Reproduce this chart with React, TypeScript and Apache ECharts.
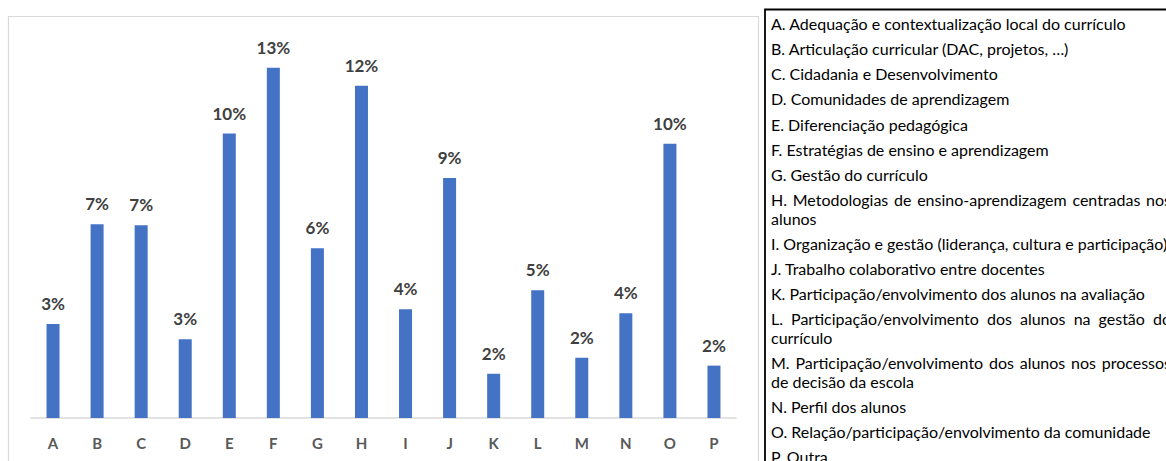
import React, { useEffect, useRef } from "react";
import * as echarts from "echarts";

const categories = ["A", "B", "C", "D", "E", "F", "G", "H", "I", "J", "K", "L", "M", "N", "O", "P"];
const shares = [3.46, 7.14, 7.1, 2.9, 10.48, 12.9, 6.25, 12.24, 4.01, 8.84, 1.63, 4.71, 2.22, 3.86, 10.1, 1.93];
const yMax = 14;

const legendItems: string[][] = [
  ["A. Adequação e contextualização local do currículo"],
  ["B. Articulação curricular (DAC, projetos, …)"],
  ["C. Cidadania e Desenvolvimento"],
  ["D. Comunidades de aprendizagem"],
  ["E. Diferenciação pedagógica"],
  ["F. Estratégias de ensino e aprendizagem"],
  ["G. Gestão do currículo"],
  ["H. Metodologias de ensino-aprendizagem centradas nos", "alunos"],
  ["I. Organização e gestão (liderança, cultura e participação)"],
  ["J. Trabalho colaborativo entre docentes"],
  ["K. Participação/envolvimento dos alunos na avaliação"],
  ["L. Participação/envolvimento dos alunos na gestão do", "currículo"],
  ["M. Participação/envolvimento dos alunos nos processos", "de decisão da escola"],
  ["N. Perfil dos alunos"],
  ["O. Relação/participação/envolvimento da comunidade"],
  ["P. Outra"],
];

const FONT = "Lato, 'Noto Sans', sans-serif";

export default function App() {
  const ref = useRef<HTMLDivElement>(null);

  useEffect(() => {
    if (!ref.current) return;
    const canvas = document.createElement("canvas");
    const ctx = canvas.getContext("2d")!;
    const measure = (s: string, fs: number) => {
      ctx.font = `${fs}px ${FONT}`;
      return ctx.measureText(s).width;
    };
    const baseFs = 14.67;
    const fs = (baseFs * 355) / measure(legendItems[0][0], baseFs);
    const textX = 771;
    const justifyRight = 1171;

    const texts: any[] = [];
    let wraps = 0;
    legendItems.forEach((lines, pi) => {
      lines.forEach((line, li) => {
        const y = 23.5 + pi * 25.15 + (wraps + li) * 18.6;
        const justify = lines.length > 1 && li < lines.length - 1;
        if (justify) {
          const words = line.split(" ");
          const widths = words.map((w) => measure(w, fs));
          const total = widths.reduce((a, b) => a + b, 0);
          const gap = (justifyRight - textX - total) / (words.length - 1);
          let x = textX;
          words.forEach((w, wi) => {
            texts.push({
              type: "text",
              x,
              y,
              style: { text: w, font: `${fs}px ${FONT}`, fill: "#000", verticalAlign: "middle" },
            });
            x += widths[wi] + gap;
          });
        } else {
          texts.push({
            type: "text",
            x: textX,
            y,
            style: { text: line, font: `${fs}px ${FONT}`, fill: "#000", verticalAlign: "middle" },
          });
        }
      });
      wraps += lines.length - 1;
    });

    const chart = echarts.init(ref.current, undefined, { renderer: "svg" });
    chart.setOption({
      animation: false,
      backgroundColor: "#fff",
      grid: { left: 31, right: 430, top: 38, bottom: 43 },
      xAxis: {
        type: "category",
        data: categories,
        axisLine: { lineStyle: { color: "#d9d9d9", width: 1.5 } },
        axisTick: { show: false },
        axisLabel: { color: "#595959", fontWeight: "bold", fontSize: 15, fontFamily: FONT, margin: 17 },
      },
      yAxis: { type: "value", min: 0, max: yMax, show: false },
      series: [
        {
          type: "bar",
          data: shares,
          barWidth: 13,
          itemStyle: { color: "#4472C4" },
          label: {
            show: true,
            position: "top",
            distance: 12,
            formatter: (p: any) => `${Math.round(p.value)}%`,
            color: "#404040",
            fontSize: 17,
            fontWeight: "bold",
            fontFamily: FONT,
          },
        },
      ],
      graphic: {
        elements: [
          {
            type: "rect",
            shape: { x: 8.5, y: 16.5, width: 750, height: 480 },
            style: { fill: "none", stroke: "#d9d9d9", lineWidth: 1.2 },
            silent: true,
          },
          {
            type: "rect",
            shape: { x: 765, y: 9.5, width: 500, height: 480 },
            style: { fill: "none", stroke: "#000", lineWidth: 1.8 },
            silent: true,
          },
          ...texts,
        ],
      },
    });
    return () => chart.dispose();
  }, []);

  return (
    <div
      ref={ref}
      style={{ position: "absolute", left: 0, top: 0, width: 1166, height: 461 }}
    />
  );
}
